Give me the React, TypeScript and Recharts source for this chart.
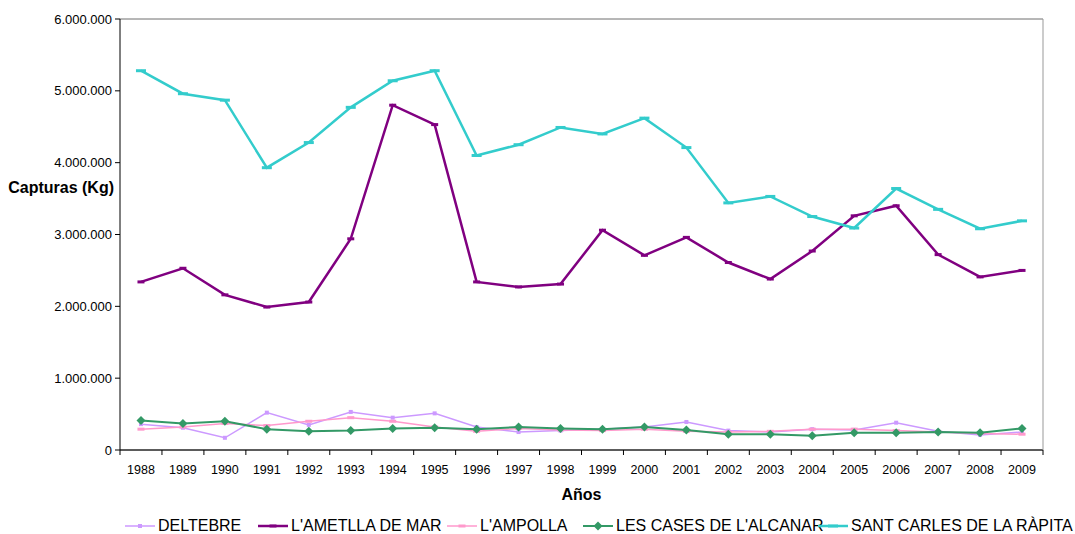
import React from "react";
import { LineChart, Line, XAxis, YAxis, CartesianGrid, Legend } from "recharts";

const years = ["1988", "1989", "1990", "1991", "1992", "1993", "1994", "1995", "1996", "1997", "1998", "1999", "2000", "2001", "2002", "2003", "2004", "2005", "2006", "2007", "2008", "2009"];

const deltebre = [360000, 310000, 170000, 520000, 350000, 530000, 450000, 510000, 320000, 250000, 270000, 290000, 320000, 390000, 270000, 250000, 290000, 280000, 380000, 260000, 210000, 250000];
const ametlla = [2340000, 2530000, 2160000, 1990000, 2060000, 2940000, 4800000, 4530000, 2340000, 2270000, 2310000, 3060000, 2710000, 2960000, 2610000, 2380000, 2770000, 3260000, 3400000, 2720000, 2410000, 2500000];
const ampolla = [290000, 320000, 370000, 340000, 400000, 450000, 400000, 320000, 260000, 300000, 280000, 270000, 290000, 260000, 250000, 260000, 290000, 290000, 270000, 250000, 230000, 220000];
const lesCases = [410000, 370000, 400000, 290000, 260000, 270000, 300000, 310000, 290000, 320000, 300000, 290000, 320000, 280000, 220000, 220000, 200000, 240000, 240000, 250000, 240000, 300000];
const santCarles = [5280000, 4960000, 4870000, 3930000, 4280000, 4770000, 5140000, 5280000, 4100000, 4250000, 4490000, 4400000, 4620000, 4210000, 3440000, 3530000, 3250000, 3090000, 3640000, 3350000, 3080000, 3190000];

const yTicks = [0, 1000000, 2000000, 3000000, 4000000, 5000000, 6000000];

const data = years.map((y, i) => ({
  year: y,
  deltebre: deltebre[i],
  ametlla: ametlla[i],
  ampolla: ampolla[i],
  lesCases: lesCases[i],
  santCarles: santCarles[i],
}));

const FONT = "'Liberation Sans', Arial, sans-serif";

const fmt = (v: number) => v.toString().replace(/\B(?=(\d{3})+(?!\d))/g, ".");

// marker shapes
const Square = ({ cx, cy, fill }: any) =>
  cx == null ? null : <rect x={cx - 2} y={cy - 2} width={4} height={4} fill={fill} />;
const Dash = ({ cx, cy, fill, w }: any) =>
  cx == null ? null : <rect x={cx - w / 2} y={cy - 1.5} width={w} height={3} fill={fill} />;
const Diamond = ({ cx, cy, fill }: any) =>
  cx == null ? null : (
    <polygon points={`${cx},${cy - 4.5} ${cx + 4.5},${cy} ${cx},${cy + 4.5} ${cx - 4.5},${cy}`} fill={fill} />
  );

const series = [
  { key: "deltebre", name: "DELTEBRE", color: "#CC99FF", width: 1.5, marker: "square" },
  { key: "ametlla", name: "L'AMETLLA DE MAR", color: "#800080", width: 2.5, marker: "dash" },
  { key: "ampolla", name: "L'AMPOLLA", color: "#FF99CC", width: 1.5, marker: "dash" },
  { key: "lesCases", name: "LES CASES DE L'ALCANAR", color: "#339966", width: 2, marker: "diamond" },
  { key: "santCarles", name: "SANT CARLES DE LA RÀPITA", color: "#33CCCC", width: 2.5, marker: "dashWide" },
];

// left edge of each legend entry
const legendX = [125, 258, 447, 583, 818];

const renderDot = (marker: string, color: string) => (p: any) => {
  const k = `${p.dataKey}-${p.index}`;
  if (marker === "square") return <Square key={k} cx={p.cx} cy={p.cy} fill={color} />;
  if (marker === "diamond") return <Diamond key={k} cx={p.cx} cy={p.cy} fill={color} />;
  if (marker === "dashWide") return <Dash key={k} cx={p.cx} cy={p.cy} fill={color} w={10} />;
  return <Dash key={k} cx={p.cx} cy={p.cy} fill={color} w={7} />;
};

const HALF = 923 / 22 / 2;

const XTick = ({ x, y, payload, index }: any) => (
  <g>
    <line x1={x - HALF} y1={y} x2={x - HALF} y2={y + 5} stroke="#000" />
    {index === years.length - 1 && <line x1={x + HALF} y1={y} x2={x + HALF} y2={y + 5} stroke="#000" />}
    <text x={x} y={y + 23.5} textAnchor="middle" fontSize={12.5} fontFamily={FONT} fill="#000">
      {payload.value}
    </text>
  </g>
);

const LegendContent = () => (
  <div style={{ position: "relative", height: 20, fontFamily: FONT, fontSize: 16, color: "#000", whiteSpace: "nowrap" }}>
    {series.map((s, i) => (
      <div key={s.key} style={{ position: "absolute", left: legendX[i], top: 2, height: 20, display: "flex", alignItems: "center" }}>
        <svg width={30} height={10} style={{ display: "block" }}>
          <line x1={0} y1={5} x2={30} y2={5} stroke={s.color} strokeWidth={s.width} />
          {s.marker === "square" && <Square cx={15} cy={5} fill={s.color} />}
          {s.marker === "diamond" && <Diamond cx={15} cy={5} fill={s.color} />}
          {s.marker === "dash" && <Dash cx={15} cy={5} fill={s.color} w={7} />}
          {s.marker === "dashWide" && <Dash cx={15} cy={5} fill={s.color} w={10} />}
        </svg>
        <span style={{ marginLeft: 3 }}>{s.name}</span>
      </div>
    ))}
  </div>
);

const YTitle = ({ viewBox }: any) => (
  <text x={viewBox.x + viewBox.width - 6} y={193} textAnchor="end" fontSize={16} fontWeight="bold" fontFamily={FONT} fill="#000">
    Capturas (Kg)
  </text>
);

export default function App() {
  return (
    <div style={{ position: "absolute", left: 0, top: 0, width: 1075, height: 534, background: "#fff" }}>
      <LineChart width={1075} height={534} data={data} margin={{ top: 19, right: 0, left: 0, bottom: 14 }}>
        <CartesianGrid horizontal vertical={false} stroke="#6e6e6e" />
        <XAxis
          dataKey="year"
          scale="point"
          padding={{ left: HALF, right: HALF }}
          axisLine={{ stroke: "#000" }}
          tickLine={false}
          tickSize={0}
          tickMargin={0}
          tick={<XTick />}
          interval={0}
          height={50}
          label={{ value: "Años", position: "insideBottom", offset: 0, fontSize: 16, fontWeight: "bold", fontFamily: FONT, fill: "#000" }}
        />
        <YAxis
          yAxisId="left"
          width={120}
          domain={[0, 6000000]}
          ticks={yTicks}
          tickFormatter={fmt}
          axisLine={{ stroke: "#000" }}
          tickLine={{ stroke: "#000" }}
          tickSize={5}
          tickMargin={3}
          tick={{ fontSize: 13, fontFamily: FONT, fill: "#000" }}
          label={<YTitle />}
        />
        <YAxis yAxisId="right" orientation="right" width={32} tick={false} tickLine={false} axisLine={{ stroke: "#999" }} />
        <Legend verticalAlign="bottom" height={20} wrapperStyle={{ bottom: 0, left: 0, width: 1075 }} content={<LegendContent />} />
        {series.map((s) => (
          <Line
            key={s.key}
            yAxisId="left"
            type="linear"
            dataKey={s.key}
            name={s.name}
            stroke={s.color}
            strokeWidth={s.width}
            dot={renderDot(s.marker, s.color)}
            activeDot={false}
            isAnimationActive={false}
          />
        ))}
      </LineChart>
    </div>
  );
}
